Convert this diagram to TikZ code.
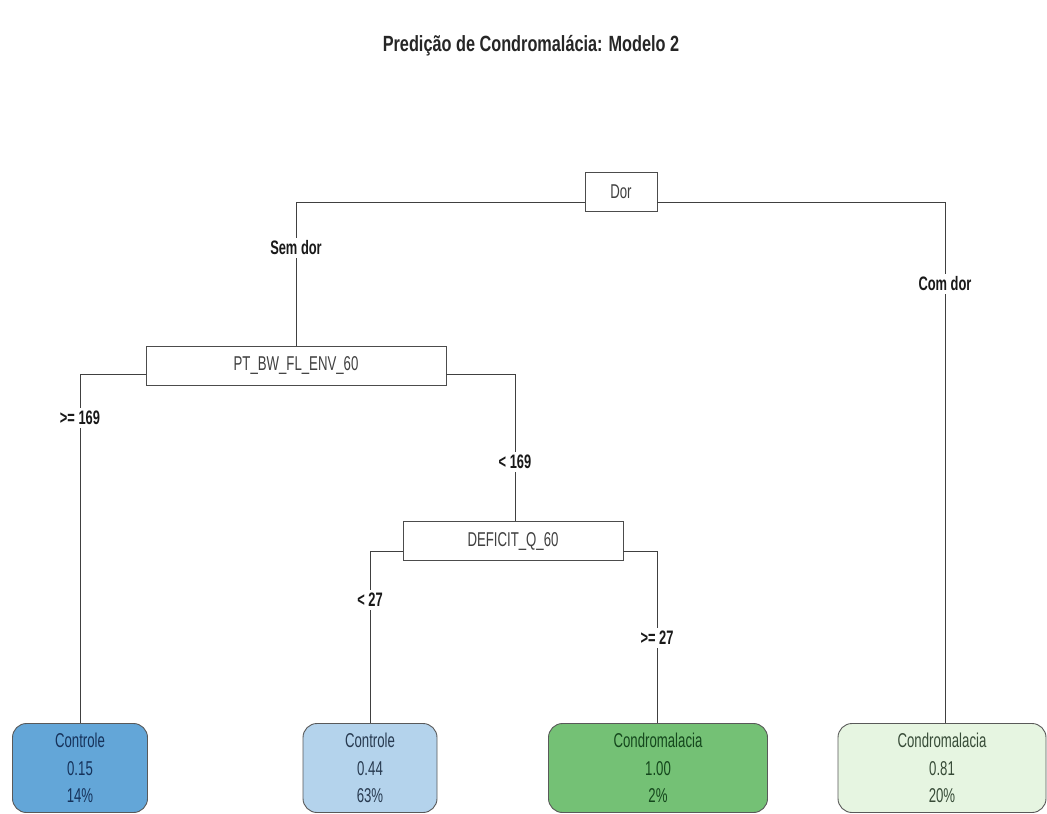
\documentclass[tikz,border=0pt]{standalone}
\usepackage{fontspec}
\setmainfont{Liberation Sans}[FakeStretch=0.66]
\newfontfamily\titlefont{Liberation Sans}[FakeStretch=0.74]
\begin{document}
\begin{tikzpicture}[x=1pt,y=-1pt,
  every node/.style={inner sep=0pt, font=\fontsize{20}{27.5}\selectfont},
  splitbox/.style={draw=black!70, line width=0.9pt, fill=white, text=black!75, minimum height=39pt},
  leafbox/.style={draw=black!65, line width=0.9pt, rounded corners=14pt, minimum height=89pt, align=center},
  edgelbl/.style={fill=white, inner sep=3pt, font=\bfseries\fontsize{19.5}{21}\selectfont, text=black!90},
  conn/.style={draw=black!75, line width=0.9pt}
]
\useasboundingbox (0,0) rectangle (1047,814);

% title
\node[font=\titlefont\bfseries\fontsize{22}{24}\selectfont, text=black!85] (title) at (531,46) {Predição de Condromalácia: Modelo 2};

% split nodes
\node[splitbox, minimum width=72pt] (dor) at (621,192) {Dor};
\node[splitbox, minimum width=300pt] (pt) at (296,365.5) {PT\_BW\_FL\_ENV\_60};
\node[splitbox, minimum width=220pt] (def) at (513,541) {DEFICIT\_Q\_60};

% leaves
\node[leafbox, minimum width=135pt, fill={rgb,255:red,99;green,166;blue,216}, text={rgb,255:red,22;green,50;blue,90}] (l1) at (80,768) {Controle\\0.15\\14\%};
\node[leafbox, minimum width=134pt, fill={rgb,255:red,180;green,211;blue,236}, text={rgb,255:red,40;green,58;blue,80}] (l2) at (370,768) {Controle\\0.44\\63\%};
\node[leafbox, minimum width=219pt, fill={rgb,255:red,116;green,193;blue,117}, text={rgb,255:red,20;green,70;blue,28}] (l3) at (658,768) {Condromalacia\\1.00\\2\%};
\node[leafbox, minimum width=208pt, fill={rgb,255:red,230;green,245;blue,225}, text={rgb,255:red,55;green,75;blue,55}] (l4) at (942,768) {Condromalacia\\0.81\\20\%};

% connectors
\draw[conn] ([yshift=-10pt]dor.west) -| (pt.north);
\draw[conn] ([yshift=-10pt]dor.east) -| ([xshift=3pt]l4.north);
\draw[conn] ([yshift=-8.5pt]pt.west) -| (l1.north);
\draw[conn] ([yshift=-8.5pt]pt.east) -| ([xshift=2pt]def.north);
\draw[conn] ([yshift=-10pt]def.west) -| (l2.north);
\draw[conn] ([yshift=-10pt]def.east) -| ([xshift=-1pt]l3.north);

% branch labels
\node[edgelbl] (sem) at (296,248) {Sem dor};
\node[edgelbl] (com) at (945,284) {Com dor};
\node[edgelbl] (g169) at (80,418) {>= 169};
\node[edgelbl] (l169) at (515,462) {< 169};
\node[edgelbl] (l27) at (370,600) {< 27};
\node[edgelbl] (g27) at (657,638) {>= 27};
\end{tikzpicture}
\end{document}
